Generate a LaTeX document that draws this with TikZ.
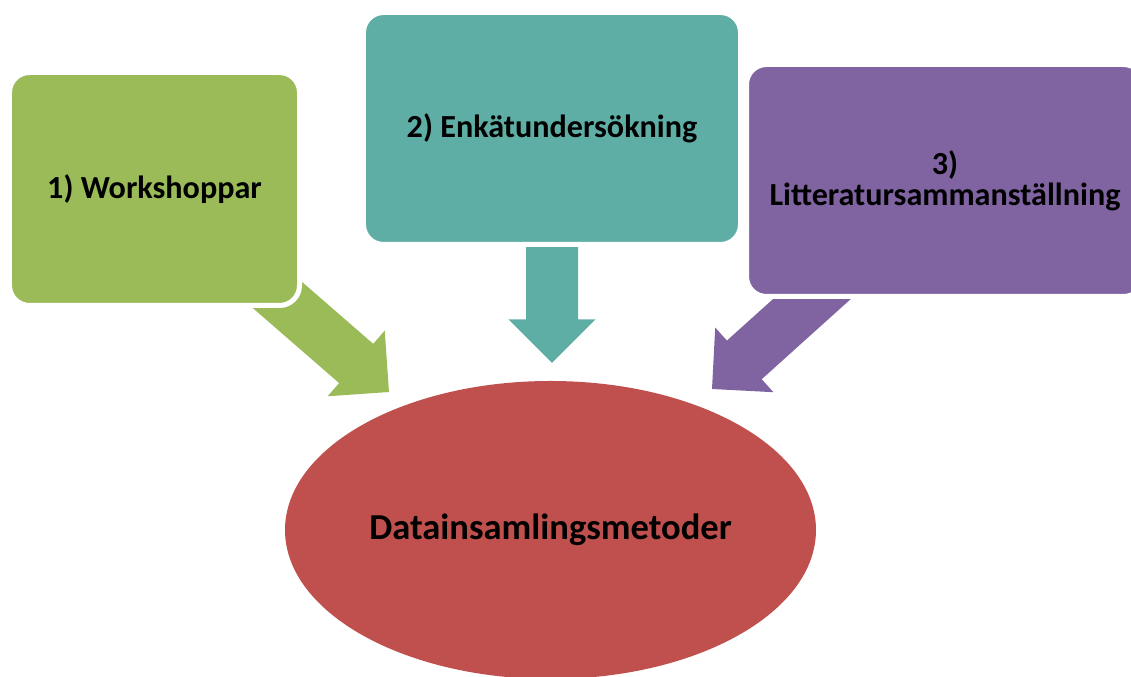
\documentclass[tikz,border=0pt]{standalone}
\usepackage{fontspec}
\setmainfont{Carlito}
\usetikzlibrary{shapes.geometric}

\definecolor{wsgreen}{RGB}{155,187,89}
\definecolor{enkteal}{RGB}{94,174,166}
\definecolor{litpurple}{RGB}{128,100,162}
\definecolor{metred}{RGB}{192,80,77}

\tikzset{
  methodbox/.style={rounded corners=4mm, draw=white, line width=1mm, inner sep=0pt,
    align=center, font=\bfseries\fontsize{18.3}{17.6}\selectfont},
  pics/fatarrow/.style={code={
    \fill (-#1,-26) -- (-43.5,-26) -- (-43.5,-43.5) -- (0,0)
      -- (-43.5,43.5) -- (-43.5,26) -- (-#1,26) -- cycle;
  }}
}

\begin{document}
\begin{tikzpicture}[x=0.2mm, y=-0.2mm]
  \useasboundingbox (0,0) rectangle (1131,677);
  \clip (0,0) rectangle (1131,677);
  % where the arrows point
  \coordinate (tipW) at (389,392);
  \coordinate (tipE) at (552,363);
  \coordinate (tipL) at (712,389);
  % arrows first, the boxes hide their tails
  \pic[fill=wsgreen, rotate=-41] at (tipW) {fatarrow=180};
  \pic[fill=enkteal, rotate=-90] at (tipE) {fatarrow=128};
  \pic[fill=litpurple, rotate=-138] at (tipL) {fatarrow=190};
  % the three methods
  \node[methodbox, fill=wsgreen, minimum width=58mm, minimum height=46.6mm]
    (work) at (154.5,189) {1) Workshoppar};
  \node[methodbox, fill=enkteal, minimum width=75.4mm, minimum height=46.4mm]
    (enkat) at (552,128.5) {2) Enkätundersökning};
  \node[methodbox, fill=litpurple, minimum width=79.4mm, minimum height=46.4mm]
    (litt) at (945,180.5) {3)\\Litteratursammanställning};
  % the whole
  \node[ellipse, fill=metred, inner sep=0pt, minimum width=106.2mm, minimum height=59.6mm,
    font=\bfseries\fontsize{20.8}{24}\selectfont] (metod) at (550.5,530) {Datainsamlingsmetoder};
\end{tikzpicture}
\end{document}
